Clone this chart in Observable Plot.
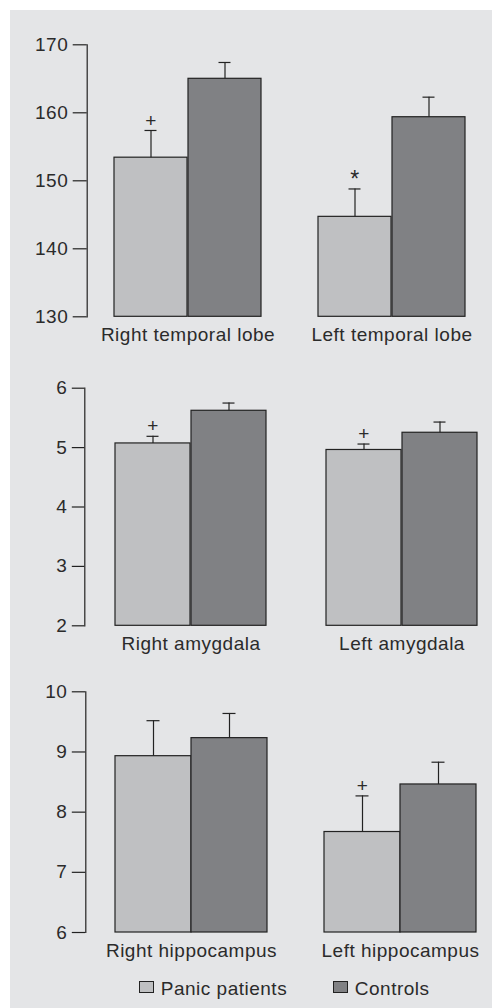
<!DOCTYPE html>
<html><head><meta charset="utf-8">
<script src="https://cdn.jsdelivr.net/npm/d3@7"></script>
<script src="https://cdn.jsdelivr.net/npm/@observablehq/plot@0.6"></script>
<style>
html,body{margin:0;padding:0;background:#fff;}
#root{position:relative;width:492px;height:1008px;overflow:hidden;font-family:"Liberation Sans",Arial,sans-serif;color:#2b2b2b;}
#bg{position:absolute;left:10px;top:10px;right:0;bottom:0;background:#e4e5e7;}
.panel{position:absolute;left:0;}
.sw{position:absolute;box-sizing:border-box;border:1.2px solid #222;width:14.5px;height:12.5px;}
.lt{position:absolute;font-size:19px;line-height:19px;letter-spacing:0.5px;white-space:nowrap;}
</style></head><body>
<div id="root"><div id="bg"></div></div>
<script>
// ---- data ----
const groups = ["Panic patients", "Controls"];
const colors = ["#bfc0c2", "#808184"];

const temporalRegions = ["Right temporal lobe", "Left temporal lobe"];
const temporalPanic = [153.4, 144.7];
const temporalPanicSE = [4.0, 4.1];
const temporalControls = [165.0, 159.35];
const temporalControlsSE = [2.4, 2.95];
const temporalSig = ["+", "*"];
const temporalTicks = [130, 140, 150, 160, 170];

const amygdalaRegions = ["Right amygdala", "Left amygdala"];
const amygdalaPanic = [5.07, 4.96];
const amygdalaPanicSE = [0.12, 0.10];
const amygdalaControls = [5.62, 5.25];
const amygdalaControlsSE = [0.13, 0.18];
const amygdalaSig = ["+", "+"];
const amygdalaTicks = [2, 3, 4, 5, 6];

const hippoRegions = ["Right hippocampus", "Left hippocampus"];
const hippoPanic = [8.93, 7.67];
const hippoPanicSE = [0.59, 0.60];
const hippoControls = [9.23, 8.46];
const hippoControlsSE = [0.41, 0.37];
const hippoSig = ["", "+"];
const hippoTicks = [6, 7, 8, 9, 10];

// ---- layout ----
const W = 492;
const root = document.getElementById("root");
const ink = "#222";

function panel(cfg) {
  const {regions, panic, panicSE, controls, controlsSE, sig, ticks,
         top, height, yTop, yBottom, axisX, start, pairW, secondStart, tickSize} = cfg;
  const step = secondStart - start;
  const pi = 1 - pairW / step;
  const range = W - axisX;
  const extra = range - step * (2 - pi);
  const po = extra / step / 2;
  const align = (start - axisX) / extra;
  const q = pairW / 4;
  const cap = 13;
  const base = ticks[0];
  const panicRows = regions.map((r, i) => ({region: r, value: panic[i], top: panic[i] + panicSE[i], sig: sig[i]}));
  const ctrlRows = regions.map((r, i) => ({region: r, value: controls[i], top: controls[i] + controlsSE[i]}));
  const chart = Plot.plot({
    width: W,
    height,
    marginTop: yTop - top,
    marginBottom: top + height - yBottom,
    marginLeft: axisX,
    marginRight: 0,
    style: {background: "transparent", fontFamily: '"Liberation Sans", Arial, sans-serif', fontSize: "19px", letterSpacing: "0.5px", color: "#2b2b2b", overflow: "visible"},
    x: {type: "band", domain: regions, paddingInner: pi, paddingOuter: po, align},
    y: {domain: [ticks[0], ticks[ticks.length - 1]]},
    marks: [
      Plot.barY(panicRows, {x: "region", y1: () => base, y2: "value", fill: colors[0], stroke: ink, strokeWidth: 1.2, insetRight: pairW / 2}),
      Plot.barY(ctrlRows, {x: "region", y1: () => base, y2: "value", fill: colors[1], stroke: ink, strokeWidth: 1.2, insetLeft: pairW / 2}),
      Plot.ruleX(panicRows, {x: "region", y1: "value", y2: "top", dx: -q, stroke: ink, strokeWidth: 1.2}),
      Plot.ruleX(ctrlRows, {x: "region", y1: "value", y2: "top", dx: q, stroke: ink, strokeWidth: 1.2}),
      Plot.tickY(panicRows, {x: "region", y: "top", insetLeft: q - cap / 2, insetRight: 3 * q - cap / 2, stroke: ink, strokeWidth: 1.2}),
      Plot.tickY(ctrlRows, {x: "region", y: "top", insetLeft: 3 * q - cap / 2, insetRight: q - cap / 2, stroke: ink, strokeWidth: 1.2}),
      Plot.text(panicRows.filter(d => d.sig === "+"), {x: "region", y: "top", text: "sig", dx: -q, dy: -10, fontSize: 19, fill: "#2b2b2b"}),
      Plot.text(panicRows.filter(d => d.sig === "*"), {x: "region", y: "top", text: "sig", dx: -q, dy: -9, fontSize: 23, fill: "#2b2b2b"}),
      Plot.frame({anchor: "left", stroke: ink, strokeWidth: 1.2}),
      Plot.axisY({ticks, tickFormat: d3.format("d"), tickSize, tickPadding: 5, stroke: ink, strokeWidth: 1.2, fill: "#2b2b2b", label: null, fontSize: 19}),
      Plot.axisX({tickSize: 0, tickPadding: 11, label: null, fill: "#2b2b2b", fontSize: 19})
    ]
  });
  const div = document.createElement("div");
  div.className = "panel";
  div.style.top = top + "px";
  div.appendChild(chart);
  root.appendChild(div);
}

panel({regions: temporalRegions, panic: temporalPanic, panicSE: temporalPanicSE, controls: temporalControls, controlsSE: temporalControlsSE,
  sig: temporalSig, ticks: temporalTicks, top: 20, height: 340, yTop: 44.3, yBottom: 316.3,
  axisX: 86.7, start: 113.3, pairW: 148, secondStart: 318, tickSize: 14});
panel({regions: amygdalaRegions, panic: amygdalaPanic, panicSE: amygdalaPanicSE, controls: amygdalaControls, controlsSE: amygdalaControlsSE,
  sig: amygdalaSig, ticks: amygdalaTicks, top: 360, height: 310, yTop: 387.7, yBottom: 625.3,
  axisX: 84.3, start: 113.7, pairW: 152, secondStart: 325.7, tickSize: 12.5});
panel({regions: hippoRegions, panic: hippoPanic, panicSE: hippoPanicSE, controls: hippoControls, controlsSE: hippoControlsSE,
  sig: hippoSig, ticks: hippoTicks, top: 670, height: 300, yTop: 691.3, yBottom: 932,
  axisX: 85.3, start: 115.3, pairW: 152, secondStart: 324.3, tickSize: 13.5});

// ---- legend (HTML, below the charts) ----
const legendLeft = [139.3, 333.3];
groups.forEach((g, i) => {
  const sw = document.createElement("div");
  sw.className = "sw";
  sw.style.left = legendLeft[i] + "px";
  sw.style.top = "980.5px";
  sw.style.background = colors[i];
  root.appendChild(sw);
  const t = document.createElement("div");
  t.className = "lt";
  t.style.left = (legendLeft[i] + 21.5) + "px";
  t.style.top = "979px";
  t.textContent = g;
  root.appendChild(t);
});
</script>
</body></html>
